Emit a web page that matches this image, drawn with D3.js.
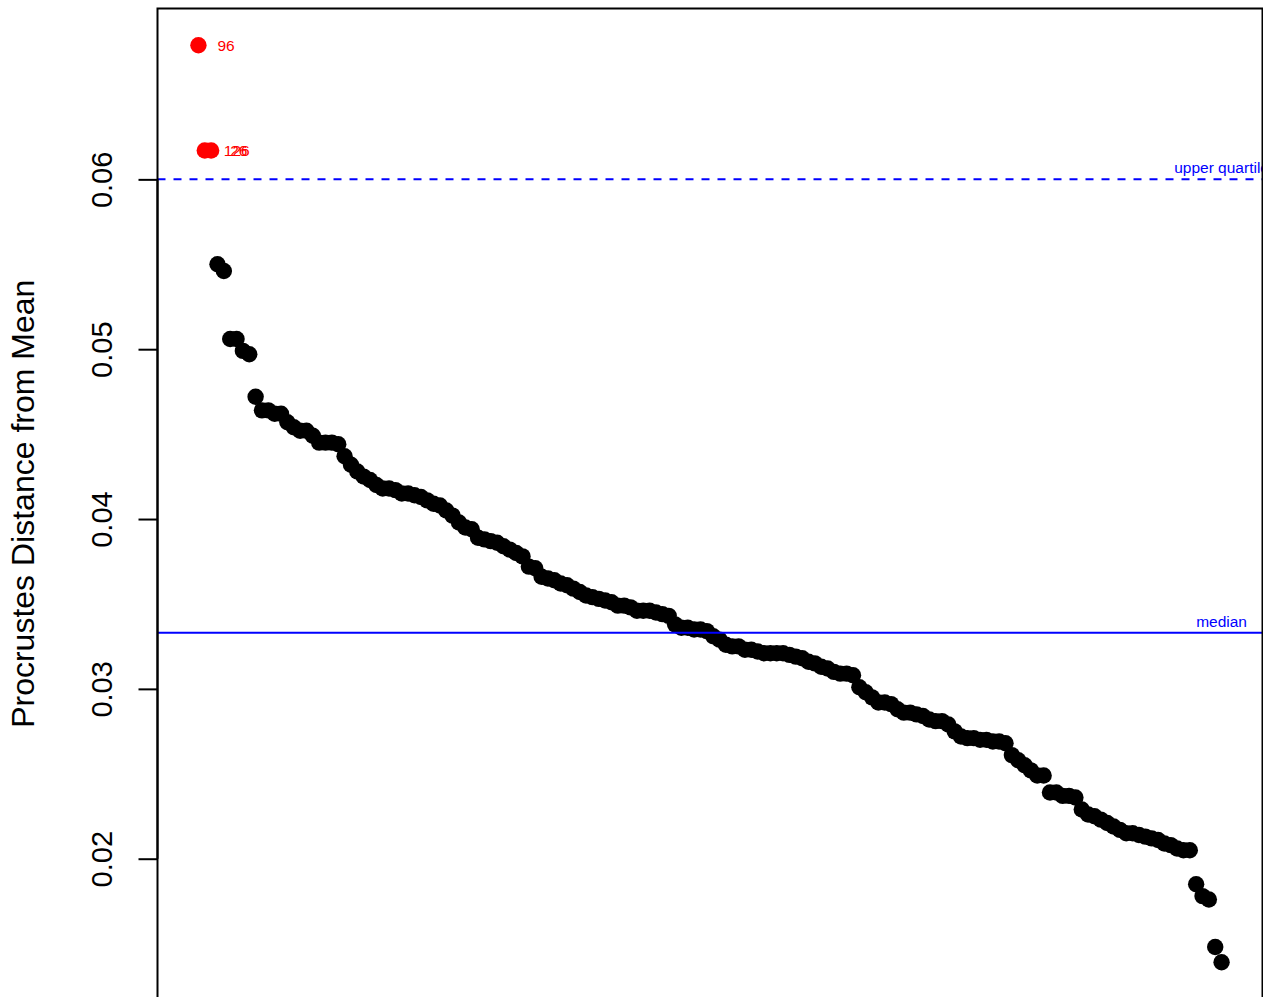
<!DOCTYPE html>
<html>
<head>
<meta charset="utf-8">
<script src="https://cdn.jsdelivr.net/npm/d3@7"></script>
<style>
  html, body { margin: 0; padding: 0; background: #fff; }
  svg { display: block; font-family: "Liberation Sans", Arial, Helvetica, sans-serif; }
</style>
</head>
<body>
<svg id="chart" width="1263" height="997"></svg>
<script>
// Procrustes distance of each specimen from the mean shape, sorted in decreasing order
const distances = [
  0.0679, 0.0617, 0.0617, 0.0550, 0.0546, 0.0506, 0.0506, 0.0499, 0.0497, 0.0472,
  0.0464, 0.0464, 0.0462, 0.0462, 0.0457, 0.0454, 0.0452, 0.0452, 0.0449, 0.0445,
  0.0445, 0.0445, 0.0444, 0.0437, 0.0432, 0.0428, 0.0425, 0.0423, 0.0420, 0.0418,
  0.0418, 0.0417, 0.0415, 0.0415, 0.0414, 0.0413, 0.0411, 0.0409, 0.0408, 0.0405,
  0.0402, 0.0398, 0.0395, 0.0394, 0.0389, 0.0388, 0.0387, 0.0386, 0.0384, 0.0382,
  0.0380, 0.0378, 0.0372, 0.0371, 0.0366, 0.0365, 0.0364, 0.0362, 0.0361, 0.0359,
  0.0357, 0.0355, 0.0354, 0.0353, 0.0352, 0.0351, 0.0349, 0.0349, 0.0348, 0.0346,
  0.0346, 0.0346, 0.0345, 0.0344, 0.0343, 0.0338, 0.0336, 0.0336, 0.0335, 0.0335,
  0.0334, 0.0331, 0.0329, 0.0326, 0.0325, 0.0325, 0.0323, 0.0323, 0.0322, 0.0321,
  0.0321, 0.0321, 0.0321, 0.0320, 0.0319, 0.0318, 0.0316, 0.0315, 0.0313, 0.0312,
  0.0310, 0.0309, 0.0309, 0.0308, 0.0301, 0.0298, 0.0295, 0.0292, 0.0292, 0.0291,
  0.0288, 0.0286, 0.0286, 0.0285, 0.0284, 0.0282, 0.0281, 0.0281, 0.0279, 0.0275,
  0.0272, 0.0271, 0.0271, 0.0270, 0.0270, 0.0269, 0.0269, 0.0268, 0.0261, 0.0258,
  0.0255, 0.0252, 0.0249, 0.0249, 0.0239, 0.0239, 0.0237, 0.0237, 0.0236, 0.0229,
  0.0226, 0.0225, 0.0223, 0.0221, 0.0219, 0.0217, 0.0215, 0.0215, 0.0214, 0.0213,
  0.0212, 0.0211, 0.0209, 0.0208, 0.0206, 0.0205, 0.0205, 0.0185, 0.0178, 0.0176,
  0.0148, 0.0139
];

// Specimens flagged above the upper threshold, with their IDs
const outlierLabels = ["96", "126", "26"];

// Reference lines
const medianValue = 0.0333;
const upperQuartileValue = 0.0600;
const refLabels = ["median", "upper quartile"];

// Y-axis ticks
const yTicks = [0.02, 0.03, 0.04, 0.05, 0.06];
const yTickLabels = ["0.02", "0.03", "0.04", "0.05", "0.06"];
const yTitle = "Procrustes Distance from Mean";

const svg = d3.select("#chart");

// Plot region
const plotLeft = 157.5, plotRight = 1262.5, plotTop = 8.5, plotBottom = 999;

const n = distances.length;
const idx = d3.range(1, n + 1);

// Ranges padded by 4% on each side
const xPad = 0.04 * (n - 1);
const x = d3.scaleLinear().domain([1 - xPad, n + xPad]).range([plotLeft, plotRight]);

const [dMin, dMax] = d3.extent(distances);
const yPad = 0.04 * (dMax - dMin);
const y = d3.scaleLinear().domain([dMin - yPad, dMax + yPad]).range([plotBottom, plotTop]);

svg.append("defs").append("clipPath").attr("id", "plotClip")
  .append("rect")
  .attr("x", plotLeft).attr("y", plotTop)
  .attr("width", plotRight - plotLeft).attr("height", plotBottom - plotTop);

const plot = svg.append("g").attr("clip-path", "url(#plotClip)");

// Points
plot.append("g").selectAll("circle")
  .data(distances)
  .join("circle")
  .attr("cx", (d, i) => x(idx[i]))
  .attr("cy", d => y(d))
  .attr("r", 8.2)
  .attr("fill", (d, i) => i < outlierLabels.length ? "#ff0000" : "#000000");

// Outlier IDs
plot.append("g").selectAll("text")
  .data(outlierLabels)
  .join("text")
  .attr("x", (d, i) => x(idx[i]) + 19)
  .attr("y", (d, i) => y(distances[i]))
  .attr("dy", "0.36em")
  .attr("font-size", 15.5)
  .attr("fill", "#ff0000")
  .text(d => d);

// Median line
plot.append("line")
  .attr("x1", plotLeft).attr("x2", plotRight)
  .attr("y1", y(medianValue)).attr("y2", y(medianValue))
  .attr("stroke", "#0000ff").attr("stroke-width", 2);

// Upper threshold line
plot.append("line")
  .attr("x1", plotLeft).attr("x2", plotRight)
  .attr("y1", y(upperQuartileValue)).attr("y2", y(upperQuartileValue))
  .attr("stroke", "#0000ff").attr("stroke-width", 2)
  .attr("stroke-dasharray", "8,8");

// Reference line labels, centred over the last specimen
plot.append("text")
  .attr("x", x(n)).attr("y", y(medianValue) - 6)
  .attr("text-anchor", "middle")
  .attr("font-size", 15.5)
  .attr("fill", "#0000ff")
  .text(refLabels[0]);

plot.append("text")
  .attr("x", x(n)).attr("y", y(upperQuartileValue) - 6)
  .attr("text-anchor", "middle")
  .attr("font-size", 15.5)
  .attr("fill", "#0000ff")
  .text(refLabels[1]);

// Frame
svg.append("rect")
  .attr("x", plotLeft).attr("y", plotTop)
  .attr("width", plotRight - plotLeft).attr("height", plotBottom - plotTop)
  .attr("fill", "none").attr("stroke", "#000").attr("stroke-width", 2);

// Y axis
const yAxis = d3.axisLeft(y)
  .tickValues(yTicks)
  .tickFormat((d, i) => yTickLabels[i])
  .tickSize(19)
  .tickPadding(0);

const gAxis = svg.append("g")
  .attr("transform", `translate(${plotLeft},0)`)
  .call(yAxis);

gAxis.select(".domain")
  .attr("stroke", "#000").attr("stroke-width", 2)
  .attr("d", `M0,${y(yTicks[0])}V${y(yTicks[yTicks.length - 1])}`);
gAxis.selectAll(".tick line").attr("stroke", "#000").attr("stroke-width", 2);
gAxis.selectAll(".tick text")
  .attr("font-family", "\"Liberation Sans\", Arial, sans-serif")
  .attr("font-size", 29)
  .attr("fill", "#000")
  .attr("x", null).attr("dy", null)
  .attr("text-anchor", "middle")
  .attr("transform", "translate(-46,0) rotate(-90)");

// Y-axis title
svg.append("text")
  .attr("transform", `translate(34,${(plotTop + plotBottom) / 2}) rotate(-90)`)
  .attr("text-anchor", "middle")
  .attr("font-size", 32)
  .attr("fill", "#000")
  .text(yTitle);
</script>
</body>
</html>
